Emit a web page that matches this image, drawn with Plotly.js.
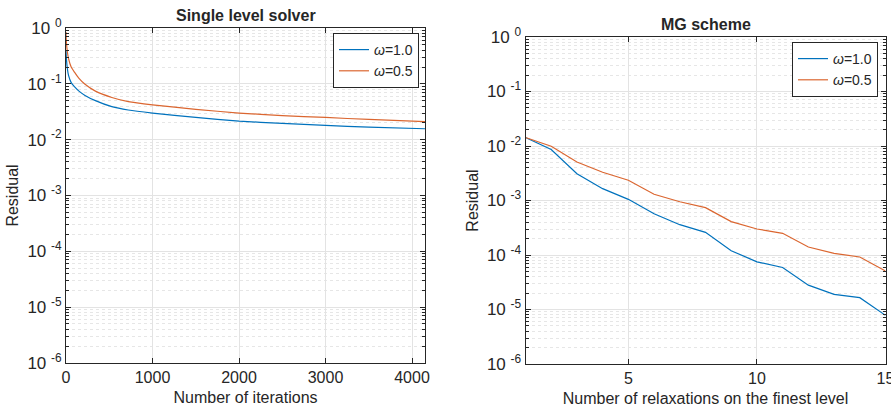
<!DOCTYPE html>
<html>
<head>
<meta charset="utf-8">
<script src="https://cdn.plot.ly/plotly-3.0.1.min.js"></script>
<style>html,body{margin:0;padding:0;background:#fff;}#chart{width:891px;height:410px;}</style>
</head>
<body>
<div id="chart"></div>
<script>
// ---- data: single level solver ----
const iterations = [0, 5, 15, 30, 60, 100, 150, 220, 340, 530, 720, 1000, 1500, 2000, 2500, 3000, 3500, 4150];
const singleOmega10 = [0.40, 0.28, 0.19, 0.14, 0.105, 0.088, 0.074, 0.062, 0.050, 0.039, 0.034, 0.030, 0.025, 0.0215, 0.0195, 0.018, 0.0168, 0.0157];
const singleOmega05 = [0.85, 0.55, 0.38, 0.28, 0.20, 0.16, 0.125, 0.098, 0.074, 0.057, 0.048, 0.042, 0.035, 0.030, 0.027, 0.025, 0.023, 0.021];

// ---- data: MG scheme ----
const relaxations = [1, 2, 3, 4, 5, 6, 7, 8, 9, 10, 11, 12, 13, 14, 15];
const mgOmega10 = [0.0143, 0.0086, 0.0031, 0.00165, 0.00105, 0.00057, 0.00036, 0.00026, 0.00012, 7.5e-5, 5.9e-5, 2.8e-5, 1.9e-5, 1.65e-5, 7.8e-6];
const mgOmega05 = [0.0143, 0.0099, 0.0051, 0.0033, 0.00235, 0.0013, 0.00095, 0.00074, 0.00041, 0.00030, 0.00025, 0.00014, 0.000107, 9.2e-5, 5.1e-5];

// ---- labels ----
const seriesNames = ['<i>ω</i>=1.0', '<i>ω</i>=0.5'];
const yTickVals = [1e-6, 1e-5, 1e-4, 1e-3, 1e-2, 1e-1, 1];
const yTickText = ['10 <sup>-6</sup>', '10 <sup>-5</sup>', '10 <sup>-4</sup>', '10 <sup>-3</sup>', '10 <sup>-2</sup>', '10 <sup>-1</sup>', '10 <sup>0</sup>'];
const xTickValsLeft = [0, 1000, 2000, 3000, 4000];
const xTickValsRight = [5, 10, 15];
const titles = ['Single level solver', 'MG scheme'];
const xTitles = ['Number of iterations', 'Number of relaxations on the finest level'];
const yTitle = 'Residual';

const minorVals = [];
for (let e = -6; e < 0; e++) for (let m = 2; m <= 9; m++) minorVals.push(m * Math.pow(10, e));

const BLUE = '#0072BD', ORANGE = '#DB6630', AX = '#262626';
const FONT = 'Liberation Sans, Arial, sans-serif';

const traces = [
  {x: iterations, y: singleOmega10, name: seriesNames[0], type: 'scatter', mode: 'lines', line: {color: BLUE, width: 1.2, shape: 'spline', smoothing: 0.6}, xaxis: 'x', yaxis: 'y', legend: 'legend'},
  {x: iterations, y: singleOmega05, name: seriesNames[1], type: 'scatter', mode: 'lines', line: {color: ORANGE, width: 1.2, shape: 'spline', smoothing: 0.6}, xaxis: 'x', yaxis: 'y', legend: 'legend'},
  {x: relaxations, y: mgOmega10, name: seriesNames[0], type: 'scatter', mode: 'lines', line: {color: BLUE, width: 1.2}, xaxis: 'x2', yaxis: 'y2', legend: 'legend2'},
  {x: relaxations, y: mgOmega05, name: seriesNames[1], type: 'scatter', mode: 'lines', line: {color: ORANGE, width: 1.2}, xaxis: 'x2', yaxis: 'y2', legend: 'legend2'}
];

function yAxis(domain, anchor) {
  return {
    type: 'log', range: [-6, 0], domain: domain, anchor: anchor,
    tickmode: 'array', tickvals: yTickVals, ticktext: yTickText,
    showline: true, linecolor: AX, linewidth: 1, mirror: 'ticks',
    ticks: 'inside', ticklen: 5, tickcolor: AX,
    showgrid: true, gridcolor: '#e3e3e3', gridwidth: 1, zeroline: false,
    tickfont: {family: FONT, size: 17, color: AX},
    title: {text: yTitle, font: {family: FONT, size: 16, color: AX}, standoff: 4},
    minor: {tickmode: 'array', tickvals: minorVals, ticks: 'inside', ticklen: 3, tickcolor: AX, showgrid: true, gridcolor: '#e6e6e6', griddash: 'dot', gridwidth: 1},
    ticklabeloverflow: 'allow',
    automargin: false
  };
}
function xAxis(domain, anchor, range, tickvals, title) {
  return {
    range: range, domain: domain, anchor: anchor,
    tickmode: 'array', tickvals: tickvals,
    showline: true, linecolor: AX, linewidth: 1, mirror: 'ticks',
    ticks: 'inside', ticklen: 5, tickcolor: AX,
    showgrid: true, gridcolor: '#e3e3e3', gridwidth: 1, zeroline: false,
    tickfont: {family: FONT, size: 16, color: AX},
    title: {text: title, font: {family: FONT, size: 16, color: AX}, standoff: 6},
    ticklabeloverflow: 'allow',
    automargin: false
  };
}

const layout = {
  width: 891, height: 410,
  margin: {l: 0, r: 0, t: 0, b: 0},
  paper_bgcolor: '#fff', plot_bgcolor: '#fff',
  font: {family: FONT, color: AX},
  xaxis: xAxis([66/891, 425/891], 'y', [0, 4150], xTickValsLeft, xTitles[0]),
  yaxis: yAxis([1 - 363/410, 1 - 28/410], 'x'),
  xaxis2: xAxis([525.5/891, 885.5/891], 'y2', [1, 15], xTickValsRight, xTitles[1]),
  yaxis2: yAxis([1 - 364/410, 1 - 37/410], 'x2'),
  legend: {x: 419/891, y: 1 - 33/410, xanchor: 'right', yanchor: 'top', bgcolor: '#fff', bordercolor: AX, borderwidth: 1, font: {family: FONT, size: 14, color: AX}, itemwidth: 30, tracegroupgap: 0},
  legend2: {x: 878/891, y: 1 - 42/410, xanchor: 'right', yanchor: 'top', bgcolor: '#fff', bordercolor: AX, borderwidth: 1, font: {family: FONT, size: 14, color: AX}, itemwidth: 30, tracegroupgap: 0},
  annotations: [
    {text: '<b>' + titles[0] + '</b>', xref: 'paper', yref: 'paper', x: 245.5/891, y: 1 - 15/410, xanchor: 'center', yanchor: 'middle', showarrow: false, font: {family: FONT, size: 16, color: AX}},
    {text: '<b>' + titles[1] + '</b>', xref: 'paper', yref: 'paper', x: 705.5/891, y: 1 - 24/410, xanchor: 'center', yanchor: 'middle', showarrow: false, font: {family: FONT, size: 16, color: AX}}
  ],
  showlegend: true
};

Plotly.newPlot('chart', traces, layout, {staticPlot: true, displayModeBar: false});
</script>
</body>
</html>
